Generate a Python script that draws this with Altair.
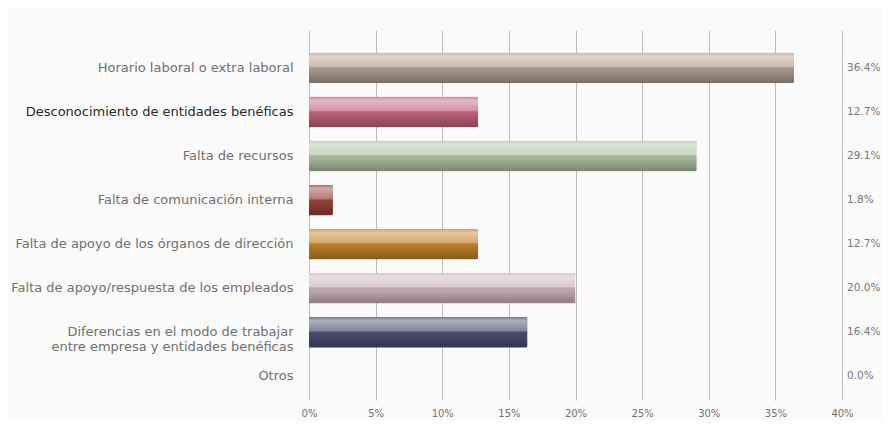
import altair as alt
import pandas as pd

categorias = [
    "Horario laboral o extra laboral",
    "Desconocimiento de entidades benéficas",
    "Falta de recursos",
    "Falta de comunicación interna",
    "Falta de apoyo de los órganos de dirección",
    "Falta de apoyo/respuesta de los empleados",
    "Diferencias en el modo de trabajar|entre empresa y entidades benéficas",
    "Otros",
]
valores = [36.4, 12.7, 29.1, 1.8, 12.7, 20.0, 16.4, 0.0]
colores = ["#b3a090", "#c4647f", "#b2c3a4", "#9a4239", "#c3842a", "#cdb5bb", "#4b4f70", "#999999"]
ticks_x = [0, 5, 10, 15, 20, 25, 30, 35, 40]

df = pd.DataFrame({"cat": categorias, "val": valores})

y_enc = alt.Y(
    "cat:N",
    sort=categorias,
    title=None,
    scale=alt.Scale(paddingInner=0.3, paddingOuter=0.35, align=0.73),
    axis=alt.Axis(
        ticks=False,
        domain=False,
        labelPadding=16,
        labelFontSize=13,
        labelFont="DejaVu Sans",
        labelLineHeight=15,
        labelLimit=320,
        labelExpr="split(datum.label, '|')",
        labelColor=alt.condition(
            "datum.value == 'Desconocimiento de entidades benéficas'",
            alt.value("#2a2a2a"),
            alt.value("#707070"),
        ),
    ),
)

x_enc = alt.X(
    "val:Q",
    title=None,
    scale=alt.Scale(domain=[0, 40], nice=False),
    axis=alt.Axis(
        values=ticks_x,
        labelExpr="datum.value + '%'",
        ticks=False,
        domain=False,
        grid=True,
        gridColor="#bcbcbc",
        gridWidth=1,
        labelFlush=False,
        labelPadding=8,
        labelFontSize=10,
        labelFont="DejaVu Sans",
        labelColor="#707070",
    ),
)

base = alt.Chart(df)

bars = base.mark_bar(cornerRadiusTopRight=2, cornerRadiusBottomRight=2).encode(
    x=x_enc,
    y=y_enc,
    color=alt.Color("cat:N", scale=alt.Scale(domain=categorias, range=colores), legend=None),
)

gloss = base.mark_bar(
    cornerRadiusTopRight=2,
    cornerRadiusBottomRight=2,
    fill=alt.Gradient(
        gradient="linear",
        stops=[
            alt.GradientStop(color="rgba(255,255,255,0.2)", offset=0),
            alt.GradientStop(color="rgba(255,255,255,0.55)", offset=0.12),
            alt.GradientStop(color="rgba(255,255,255,0.3)", offset=0.45),
            alt.GradientStop(color="rgba(0,0,0,0.06)", offset=0.55),
            alt.GradientStop(color="rgba(0,0,0,0.32)", offset=1),
        ],
        x1=0, x2=0, y1=0, y2=1,
    ),
).encode(x="val:Q", y=alt.Y("cat:N", sort=categorias))

labels = base.mark_text(
    align="left", baseline="middle", dx=5, fontSize=10.5, font="DejaVu Sans", color="#777777"
).transform_calculate(
    t="format(datum.val, '.1f') + '%'"
).encode(
    x=alt.datum(40),
    y=alt.Y("cat:N", sort=categorias),
    text="t:N",
)

chart = (
    alt.layer(bars, gloss, labels)
    .properties(
        width=533,
        height=370,
        autosize=alt.AutoSizeParams(type="none"),
        padding={"left": 301, "top": 22, "right": 41, "bottom": 21},
        background="#fbfafb",
    )
    .configure_view(stroke=None)
)

chart.save("out.html", embed_options={"renderer": "svg", "actions": False})
